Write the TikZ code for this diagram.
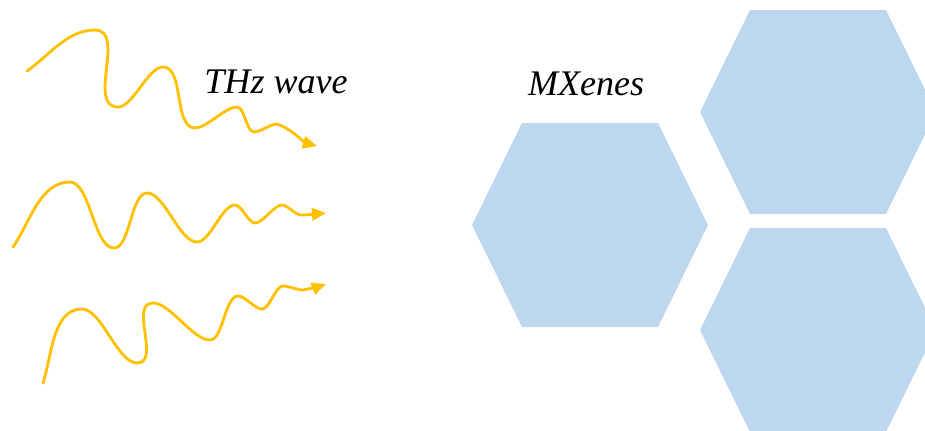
\documentclass[tikz,border=0pt]{standalone}
\usepackage{fontspec}
\setmainfont{Liberation Serif}
\newfontfamily\labelfont{Liberation Serif}
\usepackage{xcolor}
\usepackage{tikz}
\usetikzlibrary{arrows.meta}

\definecolor{thzyellow}{HTML}{FFC000}
\definecolor{mxblue}{HTML}{BDD7EE}

\begin{document}
\begin{tikzpicture}[
    x=0.02cm, y=-0.02cm,
    wave/.style={draw=thzyellow, line width=1.6pt, line cap=round, looseness=0.65, -{Triangle[length=8pt, width=7pt]}},
    hexa/.style={fill=mxblue},
    label/.style={font=\labelfont\itshape\fontsize{20.5}{24}\selectfont, inner sep=0pt, anchor=base}
]
\clip (0,0) rectangle (925,430);
\useasboundingbox (0,0) rectangle (925,430);

% MXenes flakes
\foreach \cx/\cy in {590/225, 818/112, 818/330}
    \fill[hexa] (\cx-68,\cy-102) -- (\cx+68,\cy-102) -- (\cx+118,\cy)
        -- (\cx+68,\cy+102) -- (\cx-68,\cy+102) -- (\cx-118,\cy) -- cycle;

% THz waves
\draw[wave] (27,71) to[out=35,in=180,looseness=0.9] (95,30) to[out=0,in=180,looseness=1] (118,107)
    to[out=0,in=180] (163,67) to[out=0,in=180,looseness=0.8] (195,128) to[out=0,in=180] (237,107)
    to[out=0,in=180] (254,132) to[out=0,in=180] (277,124) to[out=-15,in=165] (317,146);
\draw[wave] (13,247) to[out=55,in=180,looseness=0.9] (70,182) to[out=0,in=180] (114,248)
    to[out=0,in=180] (147,193) to[out=0,in=180] (197,242) to[out=0,in=180] (235,205)
    to[out=0,in=180] (255,223) to[out=0,in=180] (282,205) to[out=0,in=180] (301,215)
    to[out=0,in=185] (326,213);
\draw[wave] (43,383) to[out=72,in=180,looseness=0.9] (82,309) to[out=0,in=180] (137,363)
    to[out=0,in=180,looseness=1] (153,303) to[out=0,in=180] (210,340) to[out=0,in=180] (238,296)
    to[out=0,in=180] (262,309) to[out=0,in=180] (283,286) to[out=0,in=180] (303,290)
    to[out=10,in=200] (326,284);

% labels
\node[label] (thz) at (276,93) {THz wave};
\node[label] (mx) at (586,95) {MXenes};
\end{tikzpicture}
\end{document}
